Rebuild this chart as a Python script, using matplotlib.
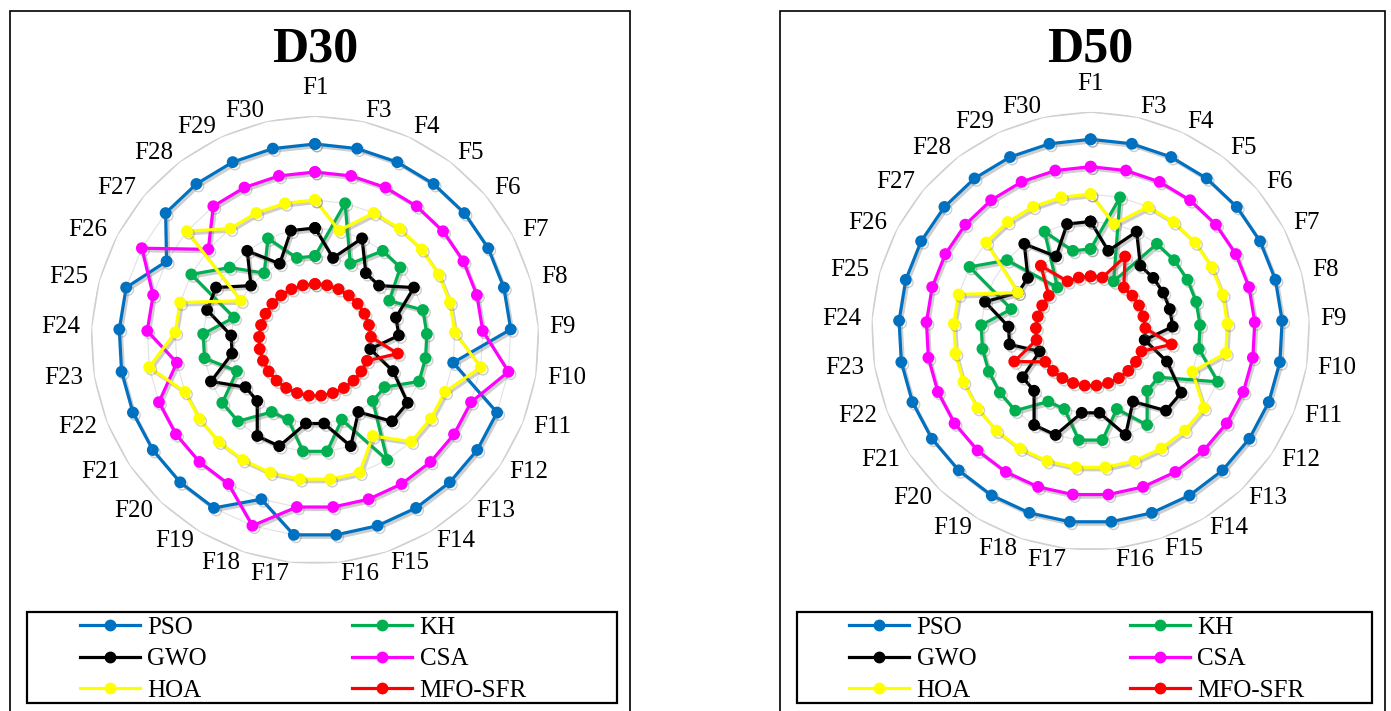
import numpy as np
import matplotlib.pyplot as plt
from matplotlib import patheffects as pe
from matplotlib.patches import Rectangle
from matplotlib.lines import Line2D

plt.rcParams['font.family'] = ['Liberation Serif', 'DejaVu Serif']

# categories (F2 is not in the benchmark set)
funcs = ["F1", "F3", "F4", "F5", "F6", "F7", "F8", "F9", "F10", "F11",
         "F12", "F13", "F14", "F15", "F16", "F17", "F18", "F19", "F20", "F21",
         "F22", "F23", "F24", "F25", "F26", "F27", "F28", "F29", "F30"]

algos = ["PSO", "KH", "GWO", "CSA", "HOA", "MFO-SFR"]
colors = ["#0070C0", "#00B050", "#000000", "#FF00FF", "#FFFF00", "#FF0000"]

# ranks, D30
d30_pso = [6, 6, 6, 6, 6, 6, 6, 6, 4, 6, 6, 6, 6, 6, 6, 6, 5, 6, 6, 6, 6, 6, 6, 6, 5, 6, 6, 6, 6]
d30_kh  = [2, 4, 2, 3, 3, 2, 3, 3, 3, 3, 2, 2, 4, 2, 3, 3, 2, 2, 3, 3, 2, 3, 3, 2, 4, 3, 2, 3, 2]
d30_gwo = [3, 2, 3, 2, 2, 3, 2, 2, 1, 2, 3, 3, 2, 3, 2, 2, 3, 3, 2, 2, 3, 2, 2, 3, 3, 2, 3, 2, 3]
d30_csa = [5, 5, 5, 5, 5, 5, 5, 5, 6, 5, 5, 5, 5, 5, 5, 5, 6, 5, 5, 5, 5, 4, 5, 5, 6, 4, 5, 5, 5]
d30_hoa = [4, 3, 4, 4, 4, 4, 4, 4, 5, 4, 4, 4, 3, 4, 4, 4, 4, 4, 4, 4, 4, 5, 4, 4, 2, 5, 4, 4, 4]
d30_mfo = [1, 1, 1, 1, 1, 1, 1, 1, 2, 1, 1, 1, 1, 1, 1, 1, 1, 1, 1, 1, 1, 1, 1, 1, 1, 1, 1, 1, 1]

# ranks, D50
d50_pso = [6, 6, 6, 6, 6, 6, 6, 6, 6, 6, 6, 6, 6, 6, 6, 6, 6, 6, 6, 6, 6, 6, 6, 6, 6, 6, 6, 6, 6]
d50_kh  = [2, 4, 1, 3, 3, 3, 3, 3, 3, 4, 2, 2, 3, 2, 3, 3, 2, 2, 3, 3, 3, 3, 3, 2, 4, 3, 1, 3, 2]
d50_gwo = [3, 2, 3, 2, 2, 2, 2, 2, 1, 2, 3, 3, 2, 3, 2, 2, 3, 3, 2, 2, 1, 2, 2, 3, 2, 2, 3, 2, 3]
d50_csa = [5, 5, 5, 5, 5, 5, 5, 5, 5, 5, 5, 5, 5, 5, 5, 5, 5, 5, 5, 5, 5, 5, 5, 5, 5, 5, 5, 5, 5]
d50_hoa = [4, 3, 4, 4, 4, 4, 4, 4, 4, 3, 4, 4, 4, 4, 4, 4, 4, 4, 4, 4, 4, 4, 4, 4, 2, 4, 4, 4, 4]
d50_mfo = [1, 1, 2, 1, 1, 1, 1, 1, 2, 1, 1, 1, 1, 1, 1, 1, 1, 1, 1, 1, 2, 1, 1, 1, 1, 1, 2, 1, 1]

W, H = 1391, 711
fig = plt.figure(figsize=(W / 100, H / 100), dpi=100)

theta = np.linspace(0, 2 * np.pi, len(funcs), endpoint=False)
theta_c = np.append(theta, theta[0])

LW, MS = 2.3, 7.5
shadow = [pe.SimpleLineShadow(offset=(1.5, -1.8), shadow_color="0.45", alpha=0.35), pe.Normal()]


def radar(cx, cy, rpx, title, data):
    # cx, cy, rpx in pixels: centre and radius of the 8-unit plot
    ax = fig.add_axes([(cx - rpx) / W, 1 - (cy + rpx) / H, 2 * rpx / W, 2 * rpx / H],
                      projection="polar")
    ax.set_theta_zero_location("N")
    ax.set_theta_direction(-1)
    ax.set_ylim(-1, 7)
    ax.grid(False)
    ax.set_xticks([])
    ax.set_yticks([])
    ax.spines["polar"].set_visible(False)
    ax.patch.set_alpha(0)

    for lvl in range(1, 8):
        ax.plot(theta_c, [lvl] * len(theta_c),
                color="#d0d0d0" if lvl == 7 else "#e2e2e2",
                lw=1.3 if lvl == 7 else 0.8, zorder=1)

    for vals, c in zip(data, colors):
        v = np.append(vals, vals[0])
        ax.plot(theta_c, v, color=c, lw=LW, marker="o", ms=MS,
                path_effects=shadow, zorder=3)

    # category labels: left/right aligned on each side, F1 centred on top
    for t, lab in zip(theta, funcs):
        s = np.sin(t)
        if abs(s) < 1e-6:
            ax.text(t, 8.0, lab, ha="center", va="center", fontsize=18, clip_on=False)
        else:
            ax.text(t, 7.39, lab, ha="left" if s > 0 else "right", va="center",
                    fontsize=18, clip_on=False)

    fig.text(cx / W, 1 - 50 / H, title, ha="center", va="center",
             fontsize=36, fontweight="bold")


radar(315, 340, 224, "D30", [d30_pso, d30_kh, d30_gwo, d30_csa, d30_hoa, d30_mfo])
radar(1090.6, 331.1, 219.2, "D50", [d50_pso, d50_kh, d50_gwo, d50_csa, d50_hoa, d50_mfo])

# outer boxes
for x0, x1 in [(10, 630), (780, 1385)]:
    fig.add_artist(Rectangle((x0 / W, -0.02), (x1 - x0) / W, 1.02 - 11 / H,
                             transform=fig.transFigure, fill=False, ec="black", lw=1.2))

# legends with their frames
handles = [Line2D([], [], color=c, lw=LW, marker="o", ms=MS) for c in colors]
order = [0, 2, 4, 1, 3, 5]
for (bx0, bx1), hx, cs in [((27, 617), 80, 5.8), ((797, 1372), 849, 6.15)]:
    fig.add_artist(Rectangle((bx0 / W, 1 - 703 / H), (bx1 - bx0) / W, (703 - 612) / H,
                             transform=fig.transFigure, fill=False, ec="black", lw=1.6))
    fig.legend([handles[i] for i in order], [algos[i] for i in order],
               loc="upper left", bbox_to_anchor=(hx / W, 1 - 616 / H), ncol=2,
               frameon=False, fontsize=18, handlelength=2.4, handletextpad=0.3,
               columnspacing=cs, labelspacing=0.37, borderpad=0, borderaxespad=0)

fig.savefig("out.png", dpi=100)
